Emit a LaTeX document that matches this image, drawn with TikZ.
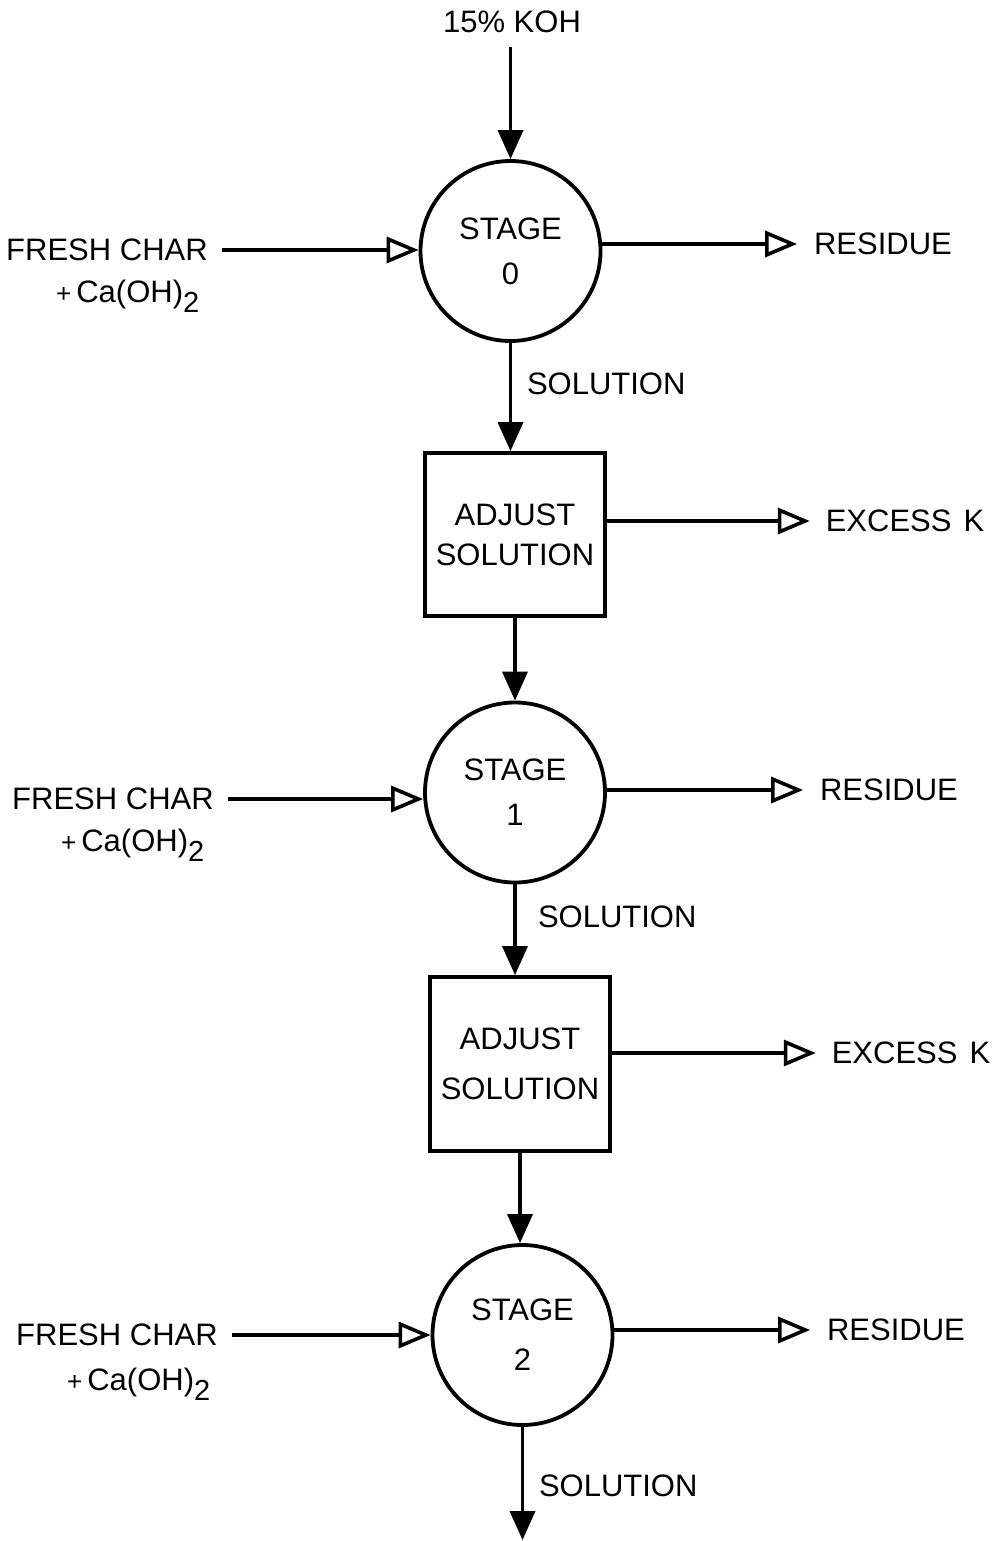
\documentclass[tikz,border=0pt]{standalone}
\usepackage{fontspec}
\setmainfont{Liberation Sans}
\usetikzlibrary{arrows.meta}
\newcommand{\caoh}{{\fontsize{26}{26}\selectfont +}\,Ca(OH)\raisebox{-10pt}{\fontsize{29}{29}\selectfont 2}}
\begin{document}
\begin{tikzpicture}[x=1pt,y=-1pt,
  lab/.style={inner sep=0pt, outer sep=0pt, font=\fontsize{31}{36}\selectfont},
  stage/.style={circle, draw, line width=3.8pt, minimum size=180pt, inner sep=0pt, align=center, font=\fontsize{31}{45}\selectfont},
  adjust/.style={rectangle, draw, line width=3.8pt, minimum width=180pt, minimum height=163pt, inner sep=0pt, align=center, font=\fontsize{31}{40}\selectfont},
  flow/.style={line width=3.6pt, -{Triangle[length=29pt,width=25pt]}},
  side/.style={line width=3.6pt, -{Triangle[open,length=32pt,width=26pt,line width=3.6pt]}},
]
\useasboundingbox (0,0) rectangle (1005,1541);

% top feed
\node[lab] (koh) at (512,22) {15\% KOH};

% stage 0
\node[stage] (s0) at (510.5,251) {STAGE\\0};
\node[lab] (fc0) at (107,250) {FRESH CHAR};
\node[lab, anchor=base west] (ca0) at (56,302) {\caoh};
\node[lab] (res0) at (883,244) {RESIDUE};
\node[lab, anchor=west] (sol0) at (527,384) {SOLUTION};

% adjust 1
\node[adjust] (b1) at (515,534.5) {ADJUST\\SOLUTION};
\node[lab] (ex1) at (905,521) {EXCESS\hspace{12pt}K};

% stage 1
\node[stage] (s1) at (515,792.5) {STAGE\\1};
\node[lab] (fc1) at (113,799) {FRESH CHAR};
\node[lab, anchor=base west] (ca1) at (61,851) {\caoh};
\node[lab] (res1) at (889,790) {RESIDUE};
\node[lab, anchor=west] (sol1) at (538,917) {SOLUTION};

% adjust 2
\node[adjust, minimum height=174pt, font=\fontsize{31}{50}\selectfont] (b2) at (520,1064) {ADJUST\\SOLUTION};
\node[lab] (ex2) at (911,1053) {EXCESS\hspace{12pt}K};

% stage 2
\node[stage, font=\fontsize{31}{50}\selectfont] (s2) at (522.5,1335) {STAGE\\2};
\node[lab] (fc2) at (117,1335) {FRESH CHAR};
\node[lab, anchor=base west] (ca2) at (67,1390) {\caoh};
\node[lab] (res2) at (896,1330) {RESIDUE};
\node[lab, anchor=west] (sol2) at (539,1486) {SOLUTION};
\coordinate (out) at (522,1540);

% connectors
\draw[flow, shorten <=14pt] (s0.north |- koh.south) -- (s0.north);
\draw[side, shorten <=14pt] (fc0.east) -- (fc0.east -| s0.west);
\draw[side, shorten >=17pt] (s0.east |- res0.west) -- (res0.west);
\draw[flow] (s0.south) -- (s0.south |- b1.north);
\draw[side, shorten >=16pt] (b1.east |- ex1.west) -- (ex1.west);
\draw[flow] (b1.south) -- (b1.south |- s1.north);
\draw[side, shorten <=14pt] (fc1.east) -- (fc1.east -| s1.west);
\draw[side, shorten >=17pt] (s1.east |- res1.west) -- (res1.west);
\draw[flow] (s1.south) -- (s1.south |- b2.north);
\draw[side, shorten >=16pt] (b2.east |- ex2.west) -- (ex2.west);
\draw[flow] (b2.south) -- (b2.south |- s2.north);
\draw[side, shorten <=14pt] (fc2.east) -- (fc2.east -| s2.west);
\draw[side, shorten >=17pt] (s2.east |- res2.west) -- (res2.west);
\draw[flow] (s2.south) -- (s2.south |- out);
\end{tikzpicture}
\end{document}
